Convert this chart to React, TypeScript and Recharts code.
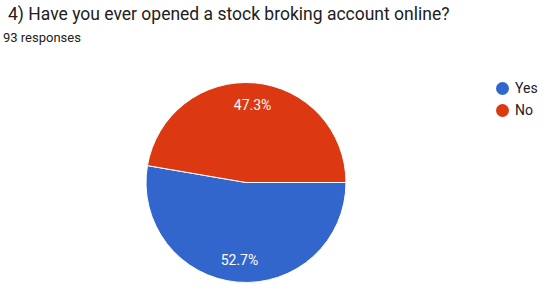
import React from 'react';
import { PieChart, Pie, Cell, Legend } from 'recharts';

const categories = ['Yes', 'No'];
const values = [52.7, 47.3];
const COLORS = ['#3366CC', '#DC3912'];

const data = categories.map((name, i) => ({ name, value: values[i] }));

const RADIAN = Math.PI / 180;

const renderLabel = (props: any) => {
  const { cx, cy, midAngle, outerRadius, value } = props;
  const r = outerRadius * 0.775;
  const x = cx + r * Math.cos(-midAngle * RADIAN);
  const y = cy + r * Math.sin(-midAngle * RADIAN);
  return (
    <text
      x={x}
      y={y}
      fill="#ffffff"
      textAnchor="middle"
      dominantBaseline="central"
      fontSize={14}
      fontFamily="Roboto, Arial, sans-serif"
    >
      {`${value.toFixed(1)}%`}
    </text>
  );
};

const renderLegend = () => (
  <div style={{ fontFamily: 'Roboto, Arial, sans-serif', fontSize: 14, color: '#222' }}>
    {data.map((d, i) => (
      <div key={d.name} style={{ display: 'flex', alignItems: 'center', height: 22 }}>
        <span
          style={{
            display: 'inline-block',
            width: 13,
            height: 13,
            borderRadius: '50%',
            background: COLORS[i],
            marginRight: 6,
          }}
        />
        {d.name}
      </div>
    ))}
  </div>
);

export default function App() {
  return (
    <div
      style={{
        position: 'fixed',
        left: 0,
        top: 0,
        width: 544,
        height: 288,
        background: '#fff',
        fontFamily: 'Roboto, Arial, sans-serif',
      }}
    >
      <PieChart
        width={544}
        height={288}
        margin={{ top: 0, right: 0, bottom: 0, left: 0 }}
        style={{ position: 'absolute', left: 0, top: 0 }}
      >
        <Pie
          data={data}
          dataKey="value"
          nameKey="name"
          cx={246}
          cy={182.5}
          outerRadius={100}
          startAngle={0}
          endAngle={-360}
          stroke="#ffffff"
          strokeWidth={1}
          labelLine={false}
          label={renderLabel}
          isAnimationActive={false}
        >
          {data.map((entry, index) => (
            <Cell key={`cell-${index}`} fill={COLORS[index]} />
          ))}
        </Pie>
        <Legend
          content={renderLegend}
          wrapperStyle={{ position: 'absolute', left: 496, top: 77, width: 'auto' }}
        />
      </PieChart>
      <div style={{ position: 'absolute', left: 8, top: 4, fontSize: 17.5, color: '#212121', whiteSpace: 'nowrap' }}>
        4) Have you ever opened a stock broking account online?
      </div>
      <div style={{ position: 'absolute', left: 3, top: 30, fontSize: 13, color: '#212121', whiteSpace: 'nowrap' }}>
        93 responses
      </div>
    </div>
  );
}
